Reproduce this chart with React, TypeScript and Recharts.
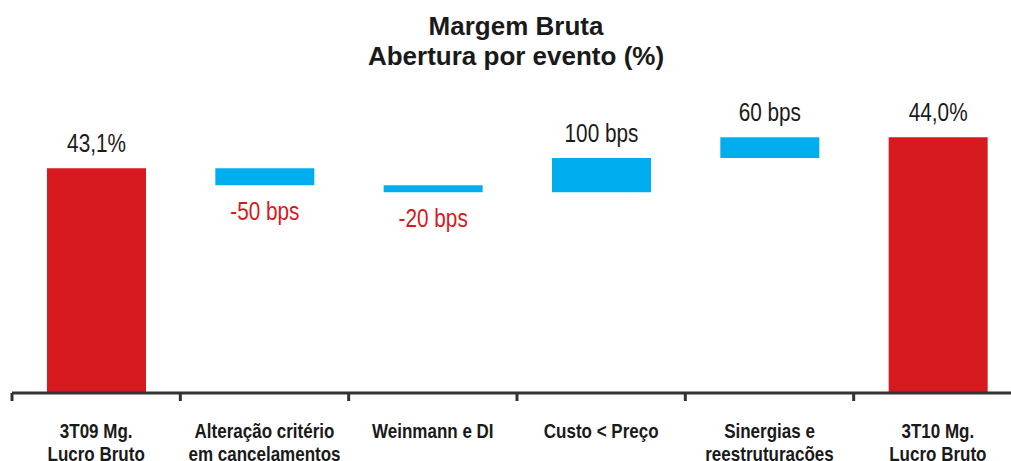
import { Bar, Cell, ComposedChart, LabelList, XAxis, YAxis } from "recharts";

const categories = [
  "3T09 Mg.\nLucro Bruto",
  "Alteração critério\nem cancelamentos",
  "Weinmann e DI",
  "Custo < Preço",
  "Sinergias e\nreestruturações",
  "3T10 Mg.\nLucro Bruto",
];
const startMargin = 43.1;
const endMargin = 44.0;
const deltasBps = [-50, -20, 100, 60];
const valueLabels = ["43,1%", "-50 bps", "-20 bps", "100 bps", "60 bps", "44,0%"];

const Y_MIN = 36.55;
const Y_MAX = 45;
const RED = "#d71920";
const BLUE = "#00aeef";
const INK = "#1a1a1a";
const FONT = "'Liberation Sans', Arial, sans-serif";

const CHART_W = 1030;
const CHART_H = 461;
const MARGIN = { top: 103, right: 8, bottom: 0, left: 12 };
const BAND = (CHART_W - MARGIN.left - MARGIN.right) / categories.length;

type Row = { name: string; range: [number, number]; kind: "total" | "up" | "down" };

function buildRows(): Row[] {
  const rows: Row[] = [{ name: categories[0], range: [Y_MIN, startMargin], kind: "total" }];
  let level = startMargin;
  deltasBps.forEach((d, i) => {
    const next = level + d / 100;
    rows.push({
      name: categories[i + 1],
      range: [Math.min(level, next), Math.max(level, next)],
      kind: d < 0 ? "down" : "up",
    });
    level = next;
  });
  rows.push({ name: categories[categories.length - 1], range: [Y_MIN, endMargin], kind: "total" });
  return rows;
}

const rows = buildRows();

// condensed look: the original uses a narrow Helvetica, squeeze horizontally
function CategoryTick({ x, y, payload, index }: any) {
  const lines = String(payload.value).split("\n");
  const left = x - BAND / 2;
  return (
    <g>
      <line x1={left} x2={left} y1={y} y2={y + 8} stroke="#333" strokeWidth={3} />
      {index === categories.length - 1 && (
        <line x1={x + BAND / 2} x2={x + BAND / 2} y1={y} y2={y + 8} stroke="#333" strokeWidth={3} />
      )}
      {lines.map((l, i) => (
        <text
          key={i}
          transform={`translate(${x} ${y + 45 + i * 22.5}) scale(0.81 1)`}
          textAnchor="middle"
          fontFamily={FONT}
          fontWeight={700}
          fontSize={21}
          fill={INK}
        >
          {l}
        </text>
      ))}
    </g>
  );
}

function ValueLabel({ x, y, width, height, index }: any) {
  const row = rows[index];
  const top = Math.min(y, y + height);
  const bottom = Math.max(y, y + height);
  const cx = x + width / 2;
  const below = row.kind === "down";
  const by = below ? bottom + 35 : top - 16;
  return (
    <text
      transform={`translate(${cx} ${by}) scale(0.83 1)`}
      textAnchor="middle"
      fontFamily={FONT}
      fontSize={25}
      fill={below ? RED : INK}
    >
      {valueLabels[index]}
    </text>
  );
}

export default function App() {
  return (
    <div
      style={{
        position: "fixed",
        left: 0,
        top: 0,
        width: 1011,
        height: 461,
        overflow: "hidden",
        background: "#fff",
      }}
    >
      <div
        style={{
          position: "absolute",
          left: 0,
          width: 1032,
          top: 11,
          textAlign: "center",
          fontFamily: FONT,
          fontWeight: 700,
          fontSize: 26,
          lineHeight: "30px",
          color: INK,
        }}
      >
        Margem Bruta
        <br />
        Abertura por evento (%)
      </div>
      <div style={{ position: "absolute", left: 0, top: 0 }}>
        <ComposedChart width={CHART_W} height={CHART_H} data={rows} margin={MARGIN}>
          <XAxis
            dataKey="name"
            interval={0}
            height={68}
            tickLine={false}
            tickSize={0}
            tickMargin={0}
            axisLine={{ stroke: "#333", strokeWidth: 3 }}
            tick={<CategoryTick />}
          />
          <YAxis hide domain={[Y_MIN, Y_MAX]} allowDataOverflow />
          <Bar dataKey="range" barSize={99} isAnimationActive={false}>
            {rows.map((r, i) => (
              <Cell key={i} fill={r.kind === "total" ? RED : BLUE} />
            ))}
            <LabelList dataKey="range" content={<ValueLabel />} />
          </Bar>
        </ComposedChart>
      </div>
    </div>
  );
}
